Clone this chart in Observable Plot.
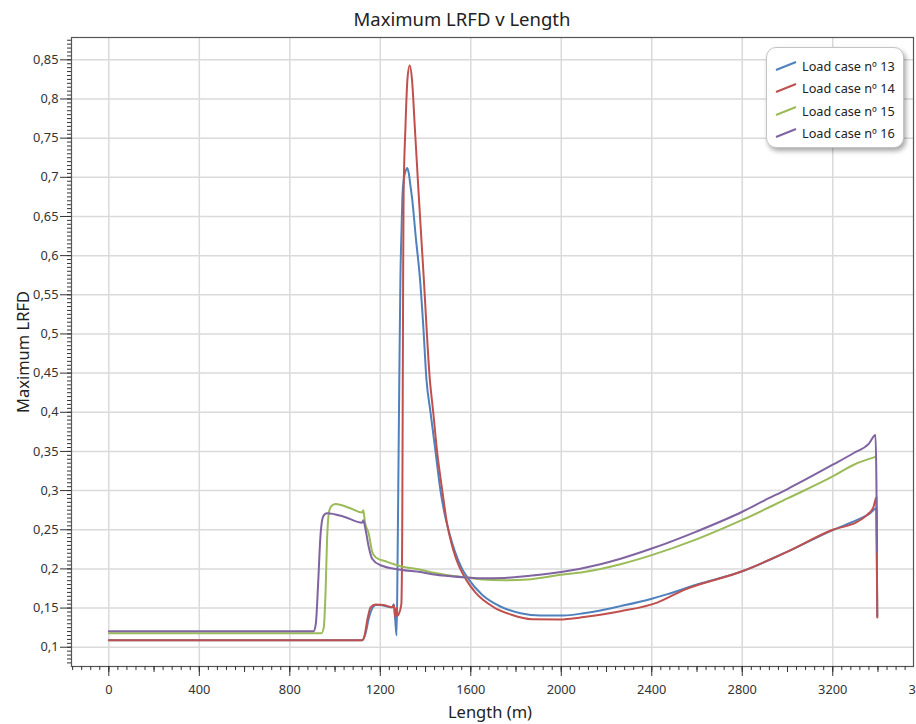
<!DOCTYPE html>
<html><head><meta charset="utf-8">
<script src="https://cdn.jsdelivr.net/npm/d3@7"></script>
<script src="https://cdn.jsdelivr.net/npm/@observablehq/plot@0.6"></script>
<style>
body{margin:0;background:#fff;font-family:"Noto Sans",sans-serif;color:#222;}
#wrap{position:relative;width:916px;height:724px;overflow:hidden;}
#title{position:absolute;top:6px;left:0;width:924px;text-align:center;font-size:18.5px;}
#ylab{position:absolute;left:22px;top:352px;transform:translate(-50%,-50%) rotate(-90deg);font-size:16.5px;white-space:nowrap;}
#xlab{position:absolute;left:490px;top:711px;transform:translate(-50%,-50%);font-size:16.5px;white-space:nowrap;}
#legend{position:absolute;left:766px;top:47px;width:138px;height:101px;border:1px solid #c4c4c4;border-radius:10px;box-shadow:2px 3px 5px rgba(0,0,0,0.35);background:#fff;box-sizing:border-box;}
.row{position:absolute;left:8px;height:20px;display:flex;align-items:center;font-size:12.7px;white-space:nowrap;}
.row svg{margin-right:5px;}
svg.plot{position:absolute;left:0;top:0;}
</style></head>
<body>
<div id="wrap">
<div id="title">Maximum LRFD v Length</div>
<div id="ylab">Maximum LRFD</div>
<div id="xlab">Length (m)</div>
<div id="legend"></div>
</div>
<script>
// Series names and colours
const seriesNames = ["Load case nº 13", "Load case nº 14", "Load case nº 15", "Load case nº 16"];
const seriesColors = ["#4f81bd", "#c0504d", "#9bbb59", "#8064a2"];

// Load case 13
const len13 = [0, 1120, 1135, 1150, 1165, 1180, 1200, 1230, 1253, 1260, 1266, 1272, 1276, 1281, 1285, 1289, 1294, 1298, 1304, 1312, 1319, 1326, 1333, 1341, 1358, 1375, 1390, 1404, 1422, 1444, 1466, 1486, 1506, 1530, 1560, 1590, 1650, 1731, 1820, 1908, 2010, 2100, 2173, 2262, 2400, 2466, 2600, 2800, 3000, 3200, 3308, 3360, 3393, 3397];
const lrfd13 = [0.109, 0.109, 0.118, 0.138, 0.150, 0.154, 0.154, 0.152, 0.151, 0.155, 0.135, 0.115, 0.20, 0.35, 0.47, 0.572, 0.634, 0.677, 0.698, 0.708, 0.712, 0.705, 0.69, 0.672, 0.62, 0.572, 0.51, 0.442, 0.40, 0.35, 0.30, 0.268, 0.245, 0.222, 0.201, 0.187, 0.167, 0.152, 0.1435, 0.1405, 0.1405, 0.1435, 0.147, 0.1525, 0.162, 0.1675, 0.180, 0.197, 0.222, 0.2496, 0.2625, 0.27, 0.277, 0.14];

// Load case 14
const len14 = [0, 1120, 1130, 1142, 1157, 1179, 1215, 1253, 1260, 1266, 1271, 1276, 1285, 1293, 1297, 1301, 1303, 1311, 1320, 1330, 1340, 1353, 1370, 1392, 1419, 1434, 1451, 1474, 1495, 1515, 1535, 1555, 1580, 1620, 1702, 1780, 1870, 1990, 2100, 2173, 2262, 2424, 2541, 2800, 3000, 3200, 3308, 3352, 3380, 3393, 3397];
const lrfd14 = [0.109, 0.109, 0.114, 0.134, 0.151, 0.1547, 0.154, 0.151, 0.154, 0.138, 0.150, 0.140, 0.145, 0.155, 0.25, 0.572, 0.677, 0.762, 0.825, 0.843, 0.825, 0.762, 0.677, 0.572, 0.442, 0.40, 0.35, 0.30, 0.258, 0.232, 0.213, 0.199, 0.186, 0.170, 0.151, 0.1415, 0.1358, 0.1355, 0.1385, 0.1415, 0.146, 0.157, 0.173, 0.197, 0.222, 0.25, 0.26, 0.269, 0.279, 0.2915, 0.138];

// Load case 15
const len15 = [0, 940, 950, 958, 965, 975, 987, 1002, 1068, 1120, 1125, 1132, 1149, 1164, 1179, 1230, 1289, 1378, 1437, 1500, 1584, 1650, 1750, 1850, 2000, 2100, 2173, 2262, 2400, 2600, 2800, 3000, 3200, 3293, 3389];
const lrfd15 = [0.118, 0.118, 0.125, 0.17, 0.24, 0.275, 0.281, 0.283, 0.2774, 0.272, 0.275, 0.26, 0.245, 0.222, 0.215, 0.209, 0.2035, 0.199, 0.195, 0.192, 0.189, 0.1865, 0.1855, 0.1865, 0.1925, 0.196, 0.2, 0.206, 0.2176, 0.238, 0.2625, 0.29, 0.318, 0.333, 0.343];

// Load case 16
const len16 = [0, 905, 915, 925, 935, 945, 955, 965, 1039, 1120, 1125, 1135, 1149, 1164, 1201, 1289, 1378, 1437, 1500, 1584, 1650, 1750, 1850, 2000, 2173, 2262, 2400, 2600, 2800, 2895, 3000, 3200, 3293, 3360, 3389, 3396];
const lrfd16 = [0.1205, 0.1205, 0.13, 0.18, 0.24, 0.265, 0.27, 0.271, 0.2667, 0.259, 0.262, 0.25, 0.228, 0.213, 0.2047, 0.199, 0.196, 0.193, 0.191, 0.189, 0.188, 0.1885, 0.191, 0.196, 0.206, 0.213, 0.226, 0.248, 0.273, 0.287, 0.302, 0.333, 0.348, 0.36, 0.371, 0.222];

// Axis ticks
const xMajorTicks = [0, 400, 800, 1200, 1600, 2000, 2400, 2800, 3200, 3600];
const yMajorTicks = [0.1, 0.15, 0.2, 0.25, 0.3, 0.35, 0.4, 0.45, 0.5, 0.55, 0.6, 0.65, 0.7, 0.75, 0.8, 0.85];

const lens = [len13, len14, len15, len16];
const vals = [lrfd13, lrfd14, lrfd15, lrfd16];
const rows = seriesNames.flatMap((name, i) => lens[i].map((l, j) => ({series: name, length: l, lrfd: vals[i][j]})));

const xMinor = d3.range(-160, 3560, 40);
const xMid = d3.range(-200, 3560, 200).filter(v => v > -165);
const yMinor = d3.range(0, 180).map(i => +(0.075 + i * 0.005).toFixed(3)).filter(v => v >= 0.0754 && v <= 0.8785);
const fmtY = d => String(d).replace(".", ",");

const chart = Plot.plot({
  width: 916, height: 724,
  marginLeft: 71, marginRight: 3, marginTop: 37, marginBottom: 58,
  style: {fontFamily: "Noto Sans", fontSize: "12.8px", color: "#333", background: "transparent", overflow: "hidden"},
  x: {domain: [-165, 3557]},
  y: {domain: [0.0754, 0.8785]},
  color: {domain: seriesNames, range: seriesColors},
  marks: [
    Plot.gridX({ticks: xMajorTicks.filter(v => v <= 3400), stroke: "#dadada", strokeOpacity: 1, strokeWidth: 1.5}),
    Plot.gridY({ticks: yMajorTicks, stroke: "#dadada", strokeOpacity: 1, strokeWidth: 1.5}),
    Plot.line(rows, {x: "length", y: "lrfd", z: "series", stroke: "series", strokeWidth: 2, curve: "monotone-x"}),
    Plot.frame({stroke: "#555", strokeWidth: 1.2}),
    Plot.axisX({ticks: xMinor, tickSize: 4, tickFormat: () => "", label: null, stroke: "#333"}),
    Plot.axisX({ticks: xMid, tickSize: 6, tickFormat: () => "", label: null, stroke: "#333"}),
    Plot.axisX({ticks: xMajorTicks, tickSize: 10, tickPadding: 8, tickFormat: d => String(d), label: null, stroke: "#333", fill: "#333"}),
    Plot.axisY({ticks: yMinor, tickSize: 4, tickFormat: () => "", label: null, stroke: "#333"}),
    Plot.axisY({ticks: yMajorTicks, tickSize: 11, tickPadding: 2, tickFormat: fmtY, label: null, stroke: "#333", fill: "#333"})
  ]
});
chart.classList.add("plot");
const wrap = document.getElementById("wrap");
wrap.insertBefore(chart, wrap.firstChild);

const legend = document.getElementById("legend");
seriesNames.forEach((name, i) => {
  const row = document.createElement("div");
  row.className = "row";
  row.style.top = (8 + i * 22.3) + "px";
  row.innerHTML = `<svg width="22" height="10"><line x1="1" y1="9" x2="21" y2="1" stroke="${seriesColors[i]}" stroke-width="2"/></svg><span>${name}</span>`;
  legend.appendChild(row);
});
</script>
</body></html>
